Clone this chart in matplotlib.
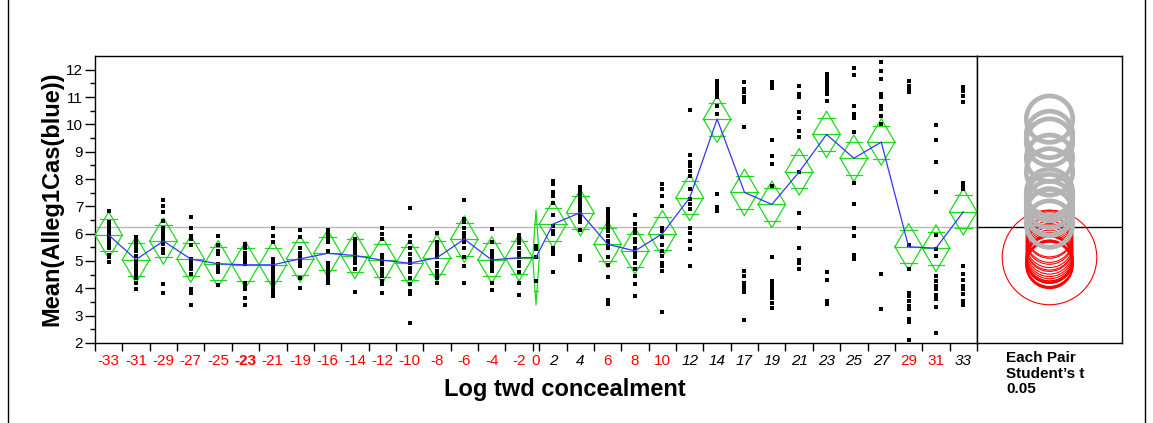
import matplotlib
matplotlib.use('Agg')
import matplotlib.pyplot as plt
from matplotlib.patches import Circle
from matplotlib.lines import Line2D
import numpy as np

plt.rcParams['font.family'] = ['Liberation Sans', 'DejaVu Sans']

categories = ['-33', '-31', '-29', '-27', '-25', '-23', '-21', '-19', '-16', '-14', '-12',
              '-10', '-8', '-6', '-4', '-2', '0', '2', '4', '6', '8', '10', '12', '14',
              '17', '19', '21', '23', '25', '27', '29', '31', '33']
# True -> red label / red comparison circle, False -> black italic label / gray circle
same_group = [True] * 17 + [False, False, True, True, True] + [False] * 8 + [True, True, False]
selected = '-23'

widths = [1] * 16 + [0.24] + [1] * 16

means = [5.95, 5.05, 5.73, 5.07, 4.90, 4.86, 4.86, 5.08, 5.28, 5.20, 5.03,
         4.92, 5.12, 5.80, 5.04, 5.12, 5.13, 6.35, 6.77, 5.61, 5.37, 6.00,
         7.32, 10.19, 7.51, 7.07, 8.26, 9.63, 8.76, 9.35, 5.52, 5.47, 6.80]

ci_half = [0.85] * 16 + [1.73] + [0.85] * 16

grand_mean = 6.24

points = [
    [6.84, 6.44, 6.35, 6.22, 6.10, 5.98, 5.86, 5.74, 5.58, 5.49, 5.21, 5.13, 4.97],
    [5.86, 5.74, 5.61, 5.49, 5.37, 5.19, 5.00, 4.88, 4.76, 4.64, 4.52, 4.39, 4.21, 3.99],
    [7.23, 7.02, 6.80, 6.47, 6.22, 6.10, 5.98, 5.86, 5.74, 5.61, 5.43, 5.28, 4.15, 3.82],
    [6.62, 6.19, 5.92, 5.80, 5.58, 5.06, 4.94, 4.82, 4.70, 4.52, 3.97, 3.84, 3.38],
    [5.90, 5.59, 5.37, 5.25, 4.88, 4.80, 4.70, 4.58, 4.14],
    [5.64, 5.49, 5.31, 5.19, 5.04, 4.88, 4.21, 4.09, 3.97, 3.66, 3.38],
    [6.19, 5.92, 5.68, 5.09, 4.94, 4.82, 4.70, 4.58, 4.45, 4.33, 4.21, 4.09, 3.97, 3.84, 3.72],
    [6.14, 5.86, 5.46, 5.31, 5.19, 5.06, 4.94, 4.82, 4.36, 4.03],
    [6.14, 6.04, 5.92, 5.80, 5.68, 5.37, 4.94, 4.82, 4.70, 4.58, 4.45, 4.33, 4.21],
    [5.80, 5.68, 5.55, 5.43, 5.31, 5.19, 5.06, 4.94, 4.72, 3.87],
    [6.19, 5.98, 5.80, 5.21, 5.13, 5.00, 4.88, 4.70, 4.58, 4.45, 4.27, 4.15, 3.82],
    [6.95, 5.90, 5.68, 5.49, 5.25, 5.06, 4.94, 4.76, 4.58, 4.36, 4.15, 3.90, 3.78, 2.72],
    [6.02, 5.70, 5.58, 5.43, 5.31, 5.13, 4.94, 4.80, 4.64, 4.48, 4.36, 4.21],
    [7.23, 6.55, 6.41, 6.22, 6.04, 5.92, 5.80, 5.68, 5.46, 5.13, 4.82, 4.21],
    [6.18, 5.68, 5.37, 5.25, 5.13, 5.00, 4.88, 4.76, 4.64, 4.21, 3.93],
    [5.94, 5.80, 5.65, 5.49, 5.31, 5.13, 4.97, 4.82, 4.58, 4.21, 3.77],
    [5.55, 5.43, 5.13, 4.26],
    [7.93, 7.81, 7.51, 7.38, 7.14, 6.68, 6.29, 6.10, 5.98, 5.49, 5.37, 5.25, 4.60],
    [7.69, 7.57, 7.45, 7.32, 7.20, 7.08, 6.96, 6.84, 6.68, 6.53, 6.41, 6.14, 5.19, 5.04],
    [6.90, 6.77, 6.65, 6.53, 6.38, 6.26, 6.10, 5.92, 5.74, 5.61, 5.49, 5.13, 4.84, 4.42, 3.56, 3.42],
    [6.68, 6.35, 6.16, 6.04, 5.80, 5.68, 5.49, 5.31, 5.13, 4.94, 4.70, 4.45, 4.15, 3.72],
    [7.81, 7.63, 7.38, 7.02, 6.22, 6.10, 5.86, 5.58, 5.37, 5.19, 4.92, 4.82, 4.64, 3.15],
    [10.53, 8.87, 8.61, 8.48, 8.30, 8.12, 7.63, 7.26, 7.08, 6.90, 6.22, 6.04, 5.74, 5.43, 4.82],
    [11.60, 11.47, 11.35, 11.23, 11.11, 10.99, 10.68, 10.38, 7.45, 6.96, 6.84],
    [11.54, 11.29, 11.17, 10.99, 10.86, 10.80, 9.92, 4.64, 4.45, 4.21, 4.09, 3.97, 3.87, 2.83],
    [11.56, 11.41, 11.32, 9.42, 8.83, 8.54, 7.73, 5.13, 4.27, 4.15, 4.03, 3.90, 3.78, 3.66, 3.48, 3.27],
    [11.41, 11.11, 10.99, 10.44, 10.25, 9.77, 9.55, 8.24, 6.77, 6.22, 5.46, 5.04, 4.94, 4.70],
    [11.84, 11.72, 11.60, 11.47, 11.35, 11.23, 11.11, 10.86, 4.58, 4.31, 3.54, 3.42],
    [12.05, 11.80, 10.68, 10.38, 10.25, 9.73, 7.84, 7.08, 6.22, 5.92, 5.21, 5.09],
    [12.29, 11.96, 11.66, 11.11, 10.99, 10.68, 10.56, 10.32, 10.01, 4.52, 3.23],
    [11.60, 11.41, 11.29, 11.17, 5.58, 4.70, 3.84, 3.72, 3.54, 3.36, 3.23, 2.87, 2.77, 2.11],
    [9.97, 9.42, 8.61, 7.54, 5.96, 5.43, 5.19, 4.45, 4.27, 4.09, 3.97, 3.75, 3.60, 3.33, 2.38],
    [11.35, 11.23, 11.02, 10.80, 7.87, 7.75, 7.63, 4.82, 4.52, 4.31, 4.09, 3.97, 3.78, 3.54, 3.38],
]

W, H = 1153, 423
fig = plt.figure(figsize=(W / 100, H / 100), dpi=100)

ax = fig.add_axes([95 / W, 1 - 343 / H, 882 / W, 287 / H])
axr = fig.add_axes([977 / W, 1 - 343 / H, 145 / W, 287 / H])

GREEN = '#1ed81e'
BLUE = '#3535ff'
RED = '#ff0000'
GRAY = '#b4b4b4'

bounds = np.concatenate([[0], np.cumsum(widths)])
centers = (bounds[:-1] + bounds[1:]) / 2
ax.set_xlim(0, bounds[-1])
ax.set_ylim(2, 12.5)

ax.axhline(grand_mean, color='#b8b8b8', lw=1.0, zorder=1)

for i in range(len(categories)):
    L, R, C = bounds[i], bounds[i + 1], centers[i]
    m, c = means[i], ci_half[i]
    ax.plot([L, C, R, C, L], [m, m + c, m, m - c, m], color=GREEN, lw=0.9, zorder=3)
    ax.plot([L, R], [m, m], color=GREEN, lw=0.9, zorder=3)
    hw = 0.3 * (R - L)
    for s in (1, -1):
        ax.plot([C - hw, C + hw], [m + s * c * 0.7071] * 2, color=GREEN, lw=0.9, zorder=3)
    ax.plot([C] * len(points[i]), points[i], 's', color='black', ms=3.4, mew=0, zorder=4)

ax.plot(centers, means, color=BLUE, lw=0.9, zorder=5)

ax.set_yticks(range(2, 13))
ax.set_yticks(np.arange(2.5, 12.5, 1.0), minor=True)
ax.tick_params(axis='y', which='major', length=7, width=1, labelsize=11, pad=1.5)
ax.tick_params(axis='y', which='minor', length=3.6, width=1)

ax.set_xticks(bounds)
ax.set_xticklabels([''] * len(bounds))
ax.set_xticks(centers, minor=True)
ax.set_xticklabels(categories, minor=True)
ax.tick_params(axis='x', which='major', length=6, width=1)
ax.tick_params(axis='x', which='minor', length=0, labelsize=11, pad=8)
for lab, cat, grp in zip(ax.get_xticklabels(minor=True), categories, same_group):
    if grp:
        lab.set_color(RED)
    else:
        lab.set_color('black')
        lab.set_fontstyle('italic')
    if cat == selected:
        lab.set_fontweight('bold')

for sp in ax.spines.values():
    sp.set_linewidth(1.0)

# comparison circles panel
axr.set_ylim(2, 12.5)
half = (145 / 2) / (287 / 10.5)
axr.set_xlim(-half, half)
axr.set_xticks([])
axr.set_yticks([])
axr.axhline(grand_mean, color='black', lw=1.0, zorder=1)
for i in range(len(categories)):
    if same_group[i]:
        lw = 1.6 if categories[i] == selected else 0.8
        axr.add_patch(Circle((0, means[i]), ci_half[i], fill=False, ec=RED, lw=lw, zorder=2))
for i in range(len(categories)):
    if not same_group[i]:
        axr.add_patch(Circle((0, means[i]), ci_half[i], fill=False, ec=GRAY, lw=3.4, zorder=3))
for sp in axr.spines.values():
    sp.set_linewidth(1.0)

fig.text(52 / W, 1 - 199 / H, 'Mean(Alleg1Cas(blue))', rotation=90, ha='center', va='center',
         fontsize=17, fontweight='bold')
fig.text(565 / W, 1 - 389 / H, 'Log twd concealment', ha='center', va='center',
         fontsize=17, fontweight='bold')
fig.text(1006 / W, 1 - 351 / H, "Each Pair\nStudent\u2019s t\n0.05", ha='left', va='top',
         fontsize=11, fontweight='bold', linespacing=1.15)

# outer frame lines
fig.add_artist(Line2D([8 / W, 8 / W], [0, 1], transform=fig.transFigure, color='black', lw=1.0))
fig.add_artist(Line2D([1145 / W, 1145 / W], [0, 1], transform=fig.transFigure, color='black', lw=1.0))

fig.savefig('out.png', dpi=100)
